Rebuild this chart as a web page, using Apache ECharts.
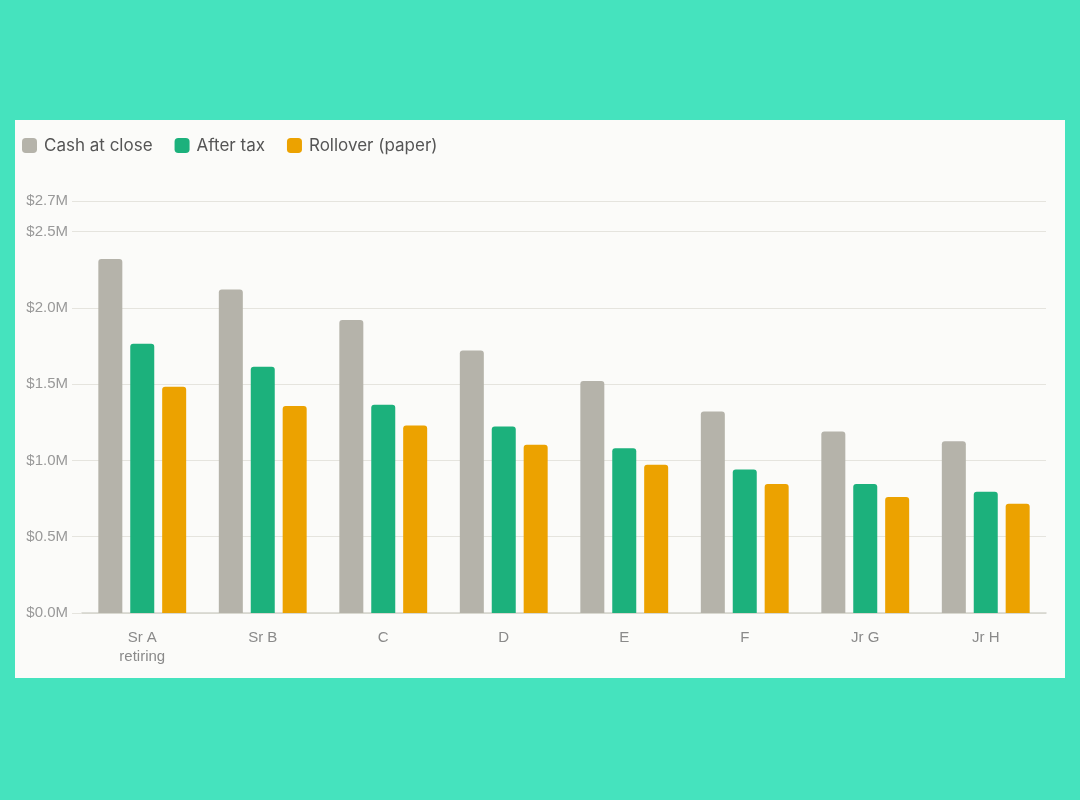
<!DOCTYPE html>
<html>
<head>
<meta charset="utf-8">
<script src="https://cdn.jsdelivr.net/npm/echarts@6/dist/echarts.min.js"></script>
<style>
  html, body { margin: 0; padding: 0; background: #45e3be; }
  #panel { position: absolute; left: 15px; top: 120px; width: 1050px; height: 558px; background: #fbfbf9; }
  #chart { width: 100%; height: 100%; }
</style>
</head>
<body>
<div id="panel"><div id="chart"></div></div>
<script>
// categories and values (in $M)
var categories = ['Sr A\nretiring', 'Sr B', 'C', 'D', 'E', 'F', 'Jr G', 'Jr H'];
var cashAtClose = [2.32, 2.12, 1.92, 1.72, 1.52, 1.32, 1.19, 1.125];
var afterTax = [1.765, 1.614, 1.365, 1.222, 1.08, 0.94, 0.846, 0.795];
var rollover = [1.483, 1.356, 1.228, 1.102, 0.972, 0.846, 0.76, 0.716];

var myChart = echarts.init(document.getElementById('chart'));

function barSeries(name, data, color) {
  return {
    name: name,
    type: 'bar',
    data: data,
    barWidth: 24,
    barGap: '33%',
    itemStyle: { color: color, borderRadius: [3, 3, 0, 0] }
  };
}

var option = {
  animation: false,
  textStyle: { fontFamily: 'Liberation Sans, Arial, sans-serif' },
  legend: {
    left: 2,
    top: 12,
    itemWidth: 15,
    itemHeight: 15,
    itemGap: 22,
    icon: 'roundRect',
    textStyle: { fontFamily: 'Inter, sans-serif', fontSize: 17, color: '#555', padding: [0, 0, 0, 2] }
  },
  grid: { left: 67, right: 19, top: 81, bottom: 65 },
  xAxis: {
    type: 'category',
    data: categories,
    axisLine: { lineStyle: { color: '#d4d3cc', width: 1.5 } },
    axisTick: { show: false },
    axisLabel: { color: '#8a8a8a', fontSize: 15, margin: 15, lineHeight: 19 }
  },
  yAxis: {
    type: 'value',
    min: 0,
    max: 2.7,
    interval: 0.5,
    axisLine: { show: false },
    axisTick: { show: true, length: 10, lineStyle: { color: '#e5e4de' } },
    splitLine: { lineStyle: { color: '#e5e4de', width: 1.2 } },
    axisLabel: {
      color: '#999',
      fontSize: 15,
      margin: 14,
      showMaxLabel: true,
      formatter: function (v) { return '$' + v.toFixed(1) + 'M'; }
    }
  },
  series: [
    barSeries('Cash at close', cashAtClose, '#b5b3aa'),
    barSeries('After tax', afterTax, '#1cb17c'),
    barSeries('Rollover (paper)', rollover, '#eca200')
  ]
};

myChart.setOption(option);
</script>
</body>
</html>
